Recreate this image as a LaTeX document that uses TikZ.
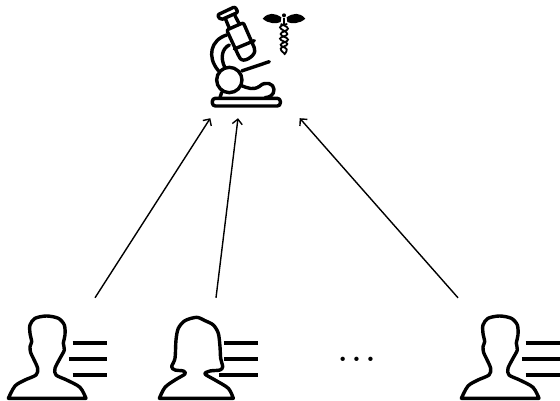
\documentclass[tikz,border=0pt]{standalone}
\usetikzlibrary{arrows.meta,positioning}

\tikzset{
    iconbox/.style={rectangle, inner sep=0pt, minimum height=100pt},
    arrow/.style={-{Straight Barb[length=5pt,width=10pt]}, line width=1.4pt},
    outline/.style={line width=3.4pt, line join=round, line cap=round},
    textline/.style={line width=3.8pt},
    malepatient/.pic={
        \begin{scope}[x=0.3333pt,y=-0.3333pt]
        \draw[outline] plot[smooth,tension=0.5] coordinates {(25,295) (45,258) (75,240) (108,225) (113,205) (100,175) (92,158) (90,140) (95,125) (90,100) (90,75) (105,55) (140,48) (175,55) (193,75) (195,105) (190,130) (193,150) (180,175) (165,205) (168,225) (200,240) (240,262) (258,295)} -- cycle;
        \draw[textline] (218,128) -- (322,128);
        \draw[textline] (207,177) -- (322,177);
        \draw[textline] (218,224) -- (322,224);
        \end{scope}
    },
    femalepatient/.pic={
        \begin{scope}[x=0.3333pt,y=-0.3333pt]
        \draw[outline] plot[smooth,tension=0.5] coordinates {(28,295) (45,262) (75,240) (105,222) (100,213) (75,210) (65,200) (75,175) (78,120) (85,85) (105,62) (140,52) (165,62) (190,75) (205,100) (210,140) (212,175) (218,200) (210,210) (180,213) (165,222) (195,240) (235,265) (250,295)} -- cycle;
        \draw[textline] (222,128) -- (325,128);
        \draw[textline] (222,177) -- (325,177);
        \draw[textline] (208,224) -- (325,224);
        \end{scope}
    }
}

\begin{document}
\begin{tikzpicture}[x=1pt,y=-1pt]
\useasboundingbox (0,0) rectangle (560,401);

% Microscope
\begin{scope}[shift={(190,0)},x=0.3333pt,y=-0.3333pt]
\draw[outline,rounded corners=2pt] (82,45) -- (135,20) -- (144,37) -- (92,60) -- cycle;
\draw[outline] (107,58) -- (118,85) (135,47) -- (148,72);
\draw[outline,rounded corners=2pt] (110,90) -- (160,68) -- (195,148) .. controls (192,170) and (160,190) .. (147,170) -- cycle;
\draw[outline] (133,147) -- (193,122);
\draw[outline] (110,105) .. controls (62,120) and (50,170) .. (85,212);
\draw[outline] (118,135) .. controls (96,145) and (90,175) .. (105,203);
\draw[outline] (118,240) circle (38);
\draw[outline] (155,213) -- (238,185);
\draw[outline] (152,256) .. controls (175,265) and (190,272) .. (210,258) .. controls (225,243) and (252,250) .. (252,268) .. controls (252,285) and (240,292) .. (225,293);
\draw[outline] (95,277) -- (90,293);
\draw[outline,rounded corners=3pt] (67,295) rectangle (271,318);
\end{scope}

% Caduceus
\begin{scope}[shift={(260,8)},x=0.3333pt,y=-0.3333pt]
\fill (8,32) .. controls (25,12) and (45,15) .. (64,28) -- (62,42) .. controls (50,48) and (25,48) .. (8,32) -- cycle;
\fill (136,32) .. controls (119,12) and (99,15) .. (80,28) -- (82,42) .. controls (94,48) and (119,48) .. (136,32) -- cycle;
\fill (72,22) circle (6);
\draw[line width=1.2pt] (72,30) -- (72,50);
\draw[line width=1.8pt] plot[smooth,tension=0.8] coordinates {(82,48) (60,58) (82,78) (60,92) (82,108) (62,122) (76,138)};
\draw[line width=1.8pt] plot[smooth,tension=0.8] coordinates {(62,48) (84,62) (62,78) (84,95) (62,110) (80,124) (72,140)};
\end{scope}

% Patients
\node[iconbox, minimum width=99pt] (patienta) at (57.5,348) {};
\node[iconbox, minimum width=99pt] (patientb) at (208,348) {};
\node[iconbox, minimum width=99pt] (patientc) at (510.5,348) {};
\node[iconbox, minimum width=89pt] (microscope) at (255,68) {};

\pic at (0,300) {malepatient};
\pic at (150,300) {femalepatient};
\pic at (453,300) {malepatient};

\node[anchor=base, inner sep=0pt, font=\fontsize{30}{30}\selectfont\bfseries] (dots) at (356.7,361) {.\hspace{4.4pt}.\hspace{4.4pt}.};

% Arrows
\draw[arrow] ([xshift=37.5pt]patienta.north) -- (microscope.south west);
\draw[arrow] ([xshift=8pt]patientb.north) -- ([xshift=-17pt]microscope.south);
\draw[arrow] ([xshift=-52.5pt]patientc.north) -- (microscope.south east);

\end{tikzpicture}
\end{document}
